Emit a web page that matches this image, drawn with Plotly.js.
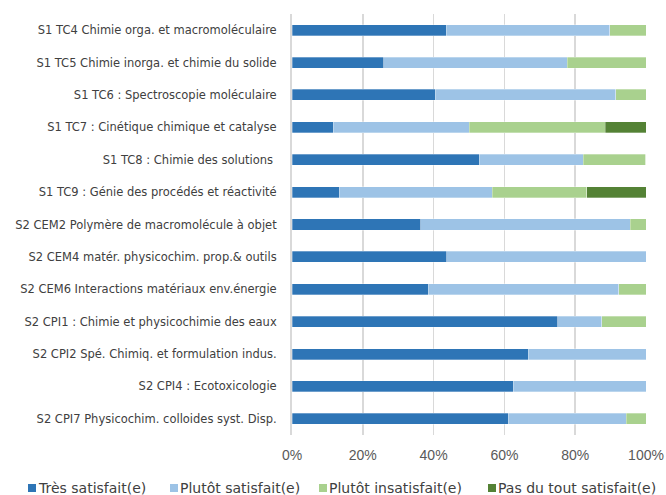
<!DOCTYPE html>
<html><head><meta charset="utf-8">
<script src="https://cdn.plot.ly/plotly-3.0.1.min.js"></script>
<style>body{margin:0;background:#fff}#c{width:666px;height:495px}</style>
</head><body><div id="c"></div>
<script>
var categories = [
 "S1 TC4 Chimie orga. et macromoléculaire",
 "S1 TC5 Chimie inorga. et chimie du solide",
 "S1 TC6 : Spectroscopie moléculaire",
 "S1 TC7 : Cinétique chimique et catalyse",
 "S1 TC8 : Chimie des solutions ",
 "S1 TC9 : Génie des procédés et réactivité",
 "S2 CEM2 Polymère de macromolécule à objet",
 "S2 CEM4 matér. physicochim. prop.& outils",
 "S2 CEM6 Interactions matériaux env.énergie",
 "S2 CPI1 : Chimie et physicochimie des eaux",
 "S2 CPI2 Spé. Chimiq. et formulation indus.",
 "S2 CPI4 : Ecotoxicologie",
 "S2 CPI7 Physicochim. colloides syst. Disp."
];
var tresSatisfait     = [43.6, 25.9, 40.4, 11.6, 52.9, 13.3, 36.4, 43.75, 38.5, 75.0, 66.7, 62.5, 61.1];
var plutotSatisfait   = [46.1, 51.9, 51.0, 38.5, 29.4, 43.3, 59.1, 56.25, 53.8, 12.5, 33.3, 37.5, 33.3];
var plutotInsatisfait = [10.3, 22.2, 8.6, 38.4, 17.6, 26.7, 4.5, 0, 7.7, 12.5, 0, 0, 5.6];
var pasDuTout         = [0, 0, 0, 11.5, 0, 16.7, 0, 0, 0, 0, 0, 0, 0];
var seriesNames = ["Très satisfait(e)", "Plutôt satisfait(e)", "Plutôt insatisfait(e)", "Pas du tout satisfait(e)"];
var xTicks = [0, 20, 40, 60, 80, 100];
var xTickLabels = ["0%", "20%", "40%", "60%", "80%", "100%"];

var W = 666, H = 495, ML = 292, MR = 20, MT = 14, MB = 60;
var PW = W - ML - MR, PH = H - MT - MB;
var colors = ["#2E75B6", "#9DC3E6", "#A9D18E", "#548235"];
var data = [tresSatisfait, plutotSatisfait, plutotInsatisfait, pasDuTout].map(function(v, i){
  return {type:"bar", orientation:"h", x:v, y:categories, name:seriesNames[i],
    marker:{color:colors[i], line:{color:"rgba(255,255,255,0.6)", width:0.5}},
    width:0.34, hoverinfo:"x+y", showlegend:false};
});

// manual legend (pixel positions converted to paper coords)
var legendSquareX = [28, 170, 319, 488];
var legendY = 488;
function px(x){ return (x - ML) / PW; }
function py(y){ return (H - MB - y) / PH; }
var shapes = [], annotations = [];
seriesNames.forEach(function(n, i){
  shapes.push({type:"rect", xref:"paper", yref:"paper", x0:px(legendSquareX[i]), x1:px(legendSquareX[i]+8),
    y0:py(legendY+4), y1:py(legendY-4), fillcolor:colors[i], line:{width:0}});
  annotations.push({xref:"paper", yref:"paper", x:px(legendSquareX[i]+8), y:py(legendY), xanchor:"left", yanchor:"middle",
    text:n, showarrow:false, font:{size:14, color:"#404040"}});
});

var layout = {
  width:W, height:H,
  margin:{l:ML, r:MR, t:MT, b:MB},
  barmode:"stack",
  paper_bgcolor:"#fff", plot_bgcolor:"#fff",
  font:{family:"DejaVu Sans, Verdana, sans-serif", color:"#404040"},
  xaxis:{range:[0,100], tickvals:xTicks, ticktext:xTickLabels, showgrid:true, gridcolor:"#d9d9d9", gridwidth:1.5,
    zeroline:false, showline:false, tickfont:{family:"Liberation Sans, Arial, sans-serif", size:14, color:"#595959"},
    ticks:"", ticklabelstandoff:10, fixedrange:true, automargin:false},
  yaxis:{autorange:"reversed", showgrid:false, zeroline:false, showline:true, linecolor:"#d9d9d9", linewidth:2,
    tickfont:{size:11.5, color:"#404040"}, ticks:"", ticklabelstandoff:11, fixedrange:true, automargin:false},
  showlegend:false,
  shapes:shapes, annotations:annotations
};
Plotly.newPlot("c", data, layout, {displayModeBar:false, staticPlot:true});
</script></body></html>
